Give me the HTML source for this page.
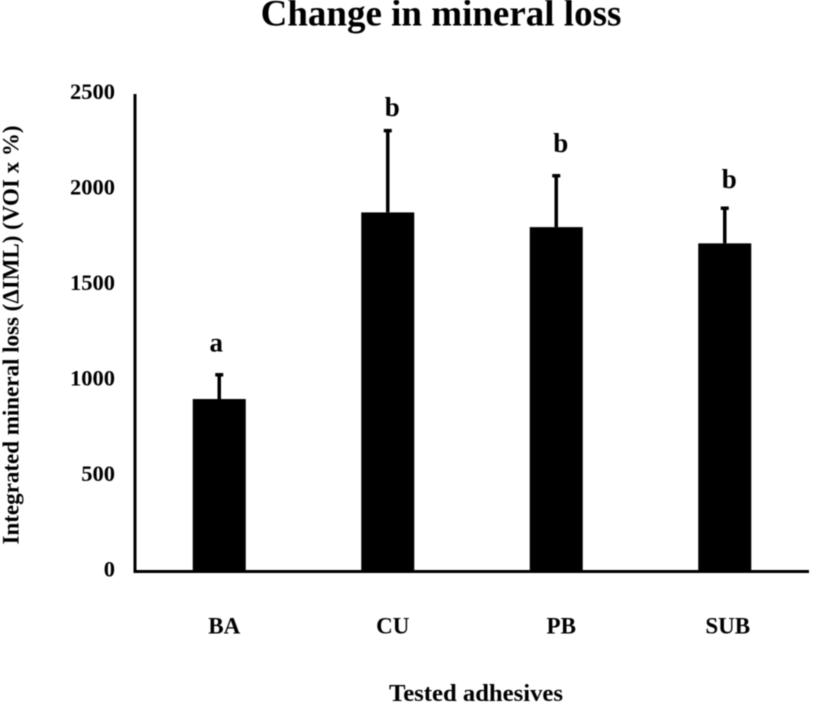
<!DOCTYPE html>
<html>
<head>
<meta charset="utf-8">
<style>
html,body{margin:0;padding:0;background:#fff;}
svg{display:block;filter:blur(0.4px);}
text{font-family:"Liberation Serif",serif;font-weight:bold;fill:#000;}
</style>
</head>
<body>
<svg id="chart" width="813" height="703" viewBox="0 0 813 703" xmlns="http://www.w3.org/2000/svg">
<text x="441" y="25.5" font-size="37" text-anchor="middle">Change in mineral loss</text>
<text x="476" y="701" font-size="24.7" text-anchor="middle">Tested adhesives</text>
<text transform="translate(18.5,335) rotate(-90)" font-size="23" text-anchor="middle">Integrated mineral loss (ΔIML) (VOI x %)</text>
<g id="plot"></g>
</svg>
<script>
const categories = ['BA', 'CU', 'PB', 'SUB'];
const means = [903, 1880, 1803, 1718];
const errorTops = [1030, 2308, 2072, 1902];
const sigLetters = ['a', 'b', 'b', 'b'];
const sigLetterLevels = [1152, 2384, 2196, 2007];
const yTicks = [0, 500, 1000, 1500, 2000, 2500];

const NS = 'http://www.w3.org/2000/svg';
const plot = document.getElementById('plot');
const x0 = 135, x1 = 809, y0 = 571.5, y1 = 94, yMax = 2500, barW = 53;
const band = (x1 - x0) / categories.length;
function xPos(i) { return x0 + band * (i + 0.5); }
function yPos(v) { return y0 - (v / yMax) * (y0 - y1); }
function mk(tag, attrs) {
  const el = document.createElementNS(NS, tag);
  for (const k in attrs) el.setAttribute(k, attrs[k]);
  plot.appendChild(el);
  return el;
}

yTicks.forEach(function (t) {
  const el = mk('text', { x: 115, y: yPos(t) + 5.2, 'font-size': 22.5, 'text-anchor': 'end' });
  el.textContent = t;
  
  
});

categories.forEach(function (c, i) {
  const cx = xPos(i);
  const err = mk('line', { x1: cx, x2: cx, y1: yPos(means[i]), y2: yPos(errorTops[i]), stroke: '#000', 'stroke-width': 3.5 });
  
  
  const cap = mk('line', { x1: cx - 4, x2: cx + 4, y1: yPos(errorTops[i]), y2: yPos(errorTops[i]), stroke: '#000', 'stroke-width': 3.5 });
  
  
  const bar = mk('rect', { x: cx - barW / 2, y: yPos(means[i]), width: barW, height: y0 - yPos(means[i]), fill: '#000' });
  
  
  const sig = mk('text', { x: cx + (sigLetters[i] === 'a' ? -3 : 4.5), y: yPos(sigLetterLevels[i]), 'font-size': 27, 'text-anchor': 'middle' });
  sig.textContent = sigLetters[i];
  
  
  const lab = mk('text', { x: cx + (i === 3 ? 3 : 5), y: 633.5, 'font-size': 23, 'text-anchor': 'middle' });
  lab.textContent = c;
  
  
});

const yAxis = mk('line', { x1: x0, x2: x0, y1: y1, y2: y0 + 1.5, stroke: '#000', 'stroke-width': 3 });


const xAxis = mk('line', { x1: x0 - 1.5, x2: x1, y1: y0, y2: y0, stroke: '#000', 'stroke-width': 3 });


</script>
</body>
</html>
